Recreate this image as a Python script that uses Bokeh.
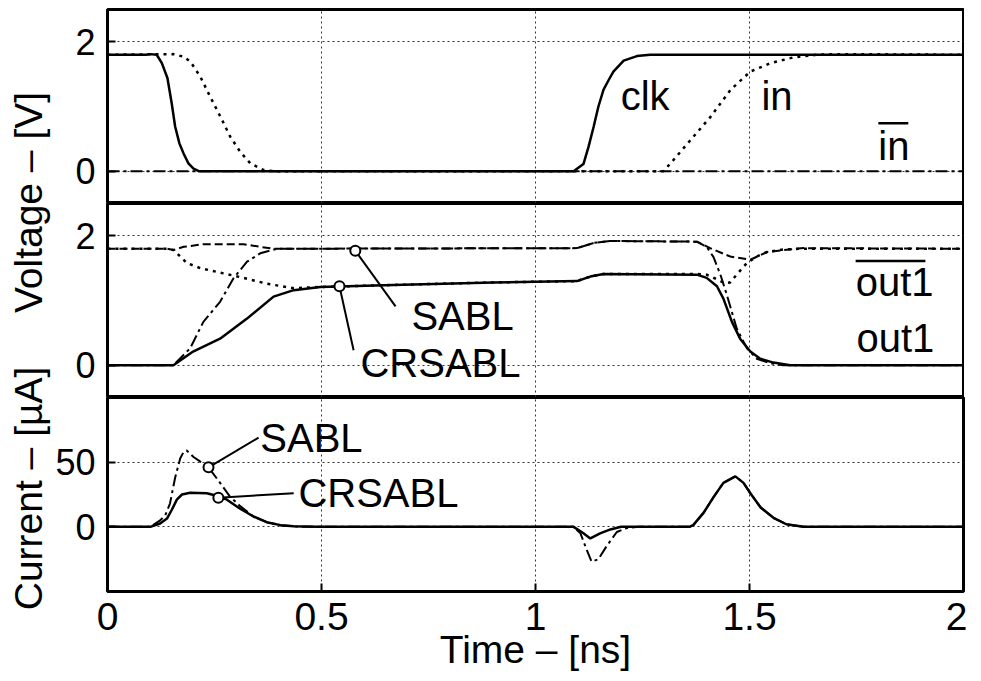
from math import pi
from bokeh.plotting import figure
from bokeh.models import Range1d, FixedTicker, LinearAxis, Grid
from bokeh.layouts import row, column
from bokeh.embed import file_html
from bokeh.resources import INLINE
from bokeh.core.properties import value

# ---------------- data ----------------
x_ticks = [0, 0.5, 1, 1.5, 2]
x_tick_labels = ["0", "0.5", "1", "1.5", "2"]
v_ticks = [0, 2]
i_ticks = [0, 50]

# panel 1 : clk, in, in-bar  [V]
clk_t = [0, 0.09, 0.10, 0.115, 0.127, 0.14, 0.15, 0.158, 0.168, 0.178, 0.189, 0.201, 0.213,
         1.089, 1.112, 1.124, 1.136, 1.147, 1.159, 1.171, 1.182, 1.206, 1.237, 1.268, 1.30, 2.0]
clk_v = [1.8, 1.8, 1.81, 1.8, 1.67, 1.44, 1.05, 0.69, 0.43, 0.27, 0.12, 0.04, 0.0,
         0.0, 0.11, 0.38, 0.69, 1.0, 1.26, 1.41, 1.54, 1.71, 1.78, 1.80, 1.8, 1.8]
in_t = [0, 0.154, 0.178, 0.194, 0.217, 0.24, 0.264, 0.287, 0.31, 0.334, 0.364, 0.388,
        1.299, 1.322, 1.362, 1.409, 1.456, 1.502, 1.549, 1.603, 1.657, 1.70, 2.0]
in_v = [1.8, 1.81, 1.77, 1.69, 1.46, 1.15, 0.84, 0.53, 0.30, 0.12, 0.02, 0.0,
        0.0, 0.17, 0.48, 0.84, 1.26, 1.54, 1.67, 1.76, 1.80, 1.81, 1.8]
inb_t = [0, 2.0]
inb_v = [0, 0]

# panel 2 : out1 / out1-bar for CRSABL and SABL  [V]
cr_out_t = [0, 0.154, 0.2, 0.263, 0.326, 0.388, 0.435, 0.497, 0.668, 0.902, 1.097, 1.128, 1.159,
            1.377, 1.40, 1.424, 1.439, 1.459, 1.478, 1.502, 1.525, 1.556, 1.595, 2.0]
cr_out_v = [0, 0, 0.21, 0.41, 0.72, 1.06, 1.16, 1.21, 1.24, 1.28, 1.30, 1.37, 1.41,
            1.40, 1.35, 1.22, 1.03, 0.67, 0.41, 0.21, 0.10, 0.04, 0.0, 0.0]
sa_out_t = [0, 0.154, 0.193, 0.224, 0.263, 0.294, 0.326, 0.357, 0.396, 1.097, 1.136, 1.174,
            1.377, 1.40, 1.416, 1.432, 1.447, 1.47, 1.494, 1.517, 1.548, 1.579, 2.0]
sa_out_v = [0, 0, 0.26, 0.67, 0.98, 1.34, 1.60, 1.73, 1.80, 1.81, 1.89, 1.92,
            1.91, 1.83, 1.67, 1.40, 1.09, 0.57, 0.26, 0.10, 0.03, 0.0, 0.0]
cr_outb_t = [0, 0.14, 0.154, 0.17, 0.185, 0.217, 0.264, 0.318, 0.372, 0.435, 0.50, 0.668, 0.902,
             1.097, 1.128, 1.159, 1.377, 1.40, 1.42, 1.442, 1.455, 1.47, 1.494, 1.517, 1.541, 1.58, 1.62, 2.0]
cr_outb_v = [1.8, 1.8, 1.78, 1.68, 1.58, 1.50, 1.43, 1.35, 1.26, 1.19, 1.21, 1.24, 1.28,
             1.30, 1.37, 1.41, 1.41, 1.40, 1.34, 1.27, 1.28, 1.40, 1.58, 1.68, 1.75, 1.79, 1.8, 1.8]
sa_outb_t = [0, 0.14, 0.154, 0.178, 0.224, 0.318, 0.357, 0.388, 1.097, 1.136, 1.174, 1.377,
             1.408, 1.455, 1.502, 1.541, 1.58, 1.626, 2.0]
sa_outb_v = [1.8, 1.8, 1.78, 1.83, 1.87, 1.87, 1.83, 1.80, 1.81, 1.89, 1.92, 1.91,
             1.81, 1.68, 1.63, 1.75, 1.78, 1.81, 1.8]

# panel 3 : supply current [uA]
cr_i_t = [0, 0.10, 0.123, 0.139, 0.15, 0.162, 0.174, 0.193, 0.232, 0.255, 0.279, 0.31, 0.341,
          0.372, 0.404, 0.435, 0.49, 1.089, 1.112, 1.128, 1.151, 1.175, 1.20, 1.36, 1.369, 1.393,
          1.416, 1.439, 1.467, 1.486, 1.502, 1.526, 1.556, 1.586, 1.626, 2.0]
cr_i_v = [0, 0, 2.6, 6.4, 13, 21, 25, 26.4, 26, 24, 21, 14, 8,
          3.6, 1.3, 0.5, 0, 0, -5, -9, -5, -2, 0, 0, 1.5, 11,
          23, 34, 39, 34, 26, 15, 7, 2, 0, 0]
sa_i_t = [0, 0.10, 0.123, 0.135, 0.146, 0.158, 0.17, 0.178, 0.185, 0.201, 0.236, 0.263, 0.287,
          0.31, 0.341, 0.372, 0.404, 0.45, 1.089, 1.105, 1.12, 1.131, 1.147, 1.166, 1.19, 1.213,
          1.24, 1.36, 1.369, 1.393, 1.416, 1.439, 1.467, 1.486, 1.502, 1.526, 1.556, 1.586, 1.626, 2.0]
sa_i_v = [0, 0, 5, 9, 18, 38, 53, 58, 59, 54, 46, 34, 23,
          16, 8, 3.6, 1.3, 0, 0, -5, -18, -27, -25, -15, -4, -1,
          0, 0, 1.5, 11, 23, 34, 39, 34, 26, 15, 7, 2, 0, 0]

# text annotations (anchor = left edge / baseline, in data units)
p1_labels = ["clk", "in", "in"]
p1_lab_t = [1.199, 1.528, 1.801]
p1_lab_v = [0.95, 0.95, 0.17]
p1_bar = dict(t0=[1.801], t1=[1.871], v=[0.74])

p2_labels = ["SABL", "CRSABL", "out1", "out1"]
p2_lab_t = [0.710, 0.591, 1.748, 1.750]
p2_lab_v = [0.54, -0.19, 1.07, 0.20]
p2_bar = dict(t0=[1.748], t1=[1.911], v=[1.61])
p2_mark_t = [0.579, 0.542]
p2_mark_v = [1.77, 1.22]
p2_lead_t = [0.673, 0.575]
p2_lead_v = [0.91, 0.23]

p3_labels = ["SABL", "CRSABL"]
p3_lab_t = [0.357, 0.446]
p3_lab_v = [57.7, 15.4]
p3_mark_t = [0.236, 0.259]
p3_mark_v = [46, 22.5]
p3_lead_t = [0.353, 0.435]
p3_lead_v = [69, 26]

y_titles = ["Voltage – [V]", "Current – [µA]"]

# ---------------- styling ----------------
FONT = "Liberation Sans"
YTICK_FS = "36px"
XTICK_FS = "39px"
TEXT_PX = 40
FW, FH = 856, 194
LW = 52           # width of the title column
LEFT_B = 52
TOP_B = 9
BOTTOM_B = 84
SOLID = dict(line_width=2.5, line_color="black")
DASHDOT = dict(line_width=2, line_color="black", line_dash="12 4 3 4")
DASHED = dict(line_width=2, line_color="black", line_dash="8 4")
DOTTED = dict(line_width=2.5, line_color="black", line_dash="3 5")

x_range = Range1d(0, 2)


def make_panel(ymin, ymax, yticks, top_border, bottom_axis):
    p = figure(frame_width=FW, frame_height=FH, x_range=x_range, y_range=Range1d(ymin, ymax),
               x_axis_type=None, y_axis_type=None, output_backend="svg", toolbar_location=None,
               min_border_left=LEFT_B, min_border_right=4, min_border_top=top_border,
               min_border_bottom=BOTTOM_B if bottom_axis else 0, title=None)
    p.outline_line_color = "black"
    p.outline_line_width = 3
    grid_kw = dict(grid_line_color="#333333", grid_line_width=1, grid_line_dash="2 3")
    p.add_layout(Grid(dimension=0, ticker=FixedTicker(ticks=x_ticks), **grid_kw), "center")
    p.add_layout(Grid(dimension=1, ticker=FixedTicker(ticks=yticks), **grid_kw), "center")
    ax_kw = dict(major_tick_in=8, major_tick_out=0, major_tick_line_width=2,
                 minor_tick_line_color=None, axis_line_color=None,
                 major_label_text_font=FONT, major_label_text_color="black")
    yl = LinearAxis(ticker=FixedTicker(ticks=yticks), major_label_standoff=12,
                    major_label_text_font_size=YTICK_FS, **ax_kw)
    p.add_layout(yl, "left")
    if bottom_axis:
        xa = LinearAxis(ticker=FixedTicker(ticks=x_ticks),
                        major_label_overrides={t: s for t, s in zip(x_ticks, x_tick_labels)},
                        major_label_standoff=11, major_label_text_font_size=XTICK_FS,
                        axis_label="Time – [ns]",
                        axis_label_text_font=FONT, axis_label_text_font_size="39px",
                        axis_label_text_font_style="normal", axis_label_standoff=-5,
                        axis_label_text_color="black", **ax_kw)
        p.add_layout(xa, "below")
    p._data_per_px = (ymax - ymin) / FH
    return p


def add_text(p, xs, ys, texts):
    # anchor given at the baseline; Bokeh centres the glyph box on the anchor
    shift = 0.35 * TEXT_PX * p._data_per_px
    p.text(x=xs, y=[y + shift for y in ys], text=texts, text_font=value(FONT),
           text_font_size=value(f"{TEXT_PX}px"), text_align="left", text_baseline="middle",
           text_color="black")


# panel 1
p1 = make_panel(-0.5, 2.5, v_ticks, TOP_B, False)
p1.line(inb_t, inb_v, **DASHDOT)
p1.line(in_t, in_v, **DOTTED)
p1.line(clk_t, clk_v, **SOLID)
add_text(p1, p1_lab_t, p1_lab_v, p1_labels)
p1.segment(x0=p1_bar["t0"], y0=p1_bar["v"], x1=p1_bar["t1"], y1=p1_bar["v"], line_width=2.5, line_color="black")

# panel 2
p2 = make_panel(-0.5, 2.5, v_ticks, 0, False)
p2.line(sa_outb_t, sa_outb_v, **DASHED)
p2.line(cr_outb_t, cr_outb_v, **DOTTED)
p2.line(sa_out_t, sa_out_v, **DASHDOT)
p2.line(cr_out_t, cr_out_v, **SOLID)
p2.segment(x0=p2_mark_t, y0=p2_mark_v, x1=p2_lead_t, y1=p2_lead_v, line_width=2, line_color="black")
p2.scatter(p2_mark_t, p2_mark_v, marker="circle", size=10, fill_color="white", line_color="black", line_width=2)
add_text(p2, p2_lab_t, p2_lab_v, p2_labels)
p2.segment(x0=p2_bar["t0"], y0=p2_bar["v"], x1=p2_bar["t1"], y1=p2_bar["v"], line_width=2.5, line_color="black")

# panel 3
p3 = make_panel(-50, 100, i_ticks, 0, True)
p3.line(sa_i_t, sa_i_v, **DASHDOT)
p3.line(cr_i_t, cr_i_v, **SOLID)
p3.segment(x0=p3_mark_t, y0=p3_mark_v, x1=p3_lead_t, y1=p3_lead_v, line_width=2, line_color="black")
p3.scatter(p3_mark_t, p3_mark_v, marker="circle", size=10, fill_color="white", line_color="black", line_width=2)
add_text(p3, p3_lab_t, p3_lab_v, p3_labels)

# left column with the rotated axis titles
H = TOP_B + 3 * FH + BOTTOM_B
lab = figure(frame_width=LW, frame_height=H, x_range=Range1d(0, LW), y_range=Range1d(0, H),
             x_axis_type=None, y_axis_type=None, output_backend="svg", toolbar_location=None,
             min_border=0, title=None)
lab.outline_line_color = None
title_x = [28, 28]
title_y = [H - 202, H - 488]
lab.text(x=title_x, y=title_y, text=y_titles, angle=pi / 2, text_font=value(FONT),
         text_font_size=value("39px"), text_align="center", text_baseline="middle",
         text_color="black")

layout = row(lab, column(p1, p2, p3))
open("out.html", "w").write(file_html(layout, INLINE))
